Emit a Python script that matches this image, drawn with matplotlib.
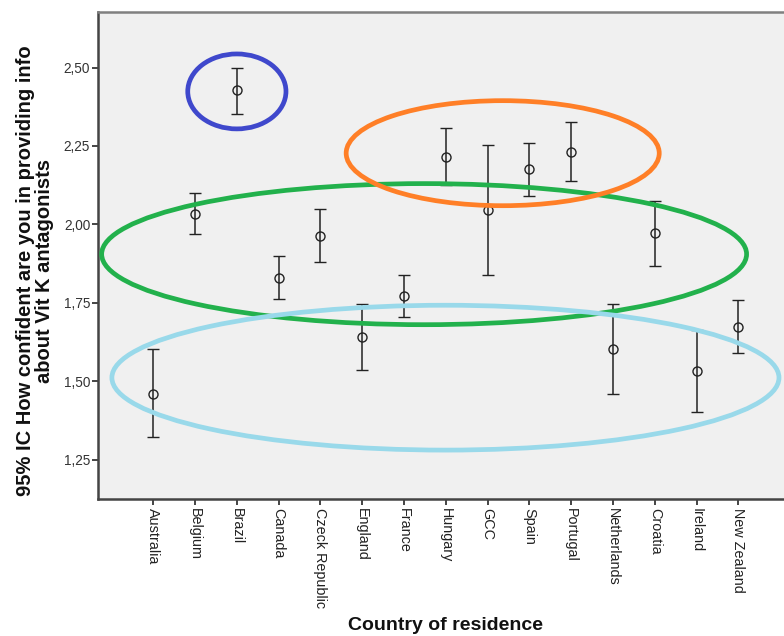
import numpy as np
import matplotlib
matplotlib.use("Agg")
import matplotlib.pyplot as plt
from matplotlib.patches import Ellipse
from matplotlib.ticker import FuncFormatter

plt.rcParams['font.family'] = ['Liberation Sans', 'DejaVu Sans']

# データ
countries = ["Australia", "Belgium", "Brazil", "Canada", "Czeck Republic",
             "England", "France", "Hungary", "GCC", "Spain", "Portugal",
             "Netherlands", "Croatia", "Ireland", "New Zealand"]
means = [1.460, 2.034, 2.427, 1.829, 1.964, 1.641, 1.771, 2.215, 2.045,
         2.176, 2.231, 1.604, 1.973, 1.532, 1.673]
ci_low = [1.322, 1.968, 2.353, 1.761, 1.879, 1.534, 1.703, 2.125, 1.838,
          2.091, 2.137, 1.460, 1.867, 1.401, 1.590]
ci_high = [1.601, 2.100, 2.500, 1.899, 2.048, 1.747, 1.838, 2.307, 2.252,
           2.261, 2.326, 1.747, 2.074, 1.664, 1.758]
y_ticks = [1.25, 1.50, 1.75, 2.00, 2.25, 2.50]

# 強調用の楕円 (中心x, 中心y, 幅, 高さ, 色)
ellipses = [
    (6.48, 1.905, 15.43, 0.450, '#22b14c'),
    (6.99, 1.511, 15.96, 0.462, '#99d9ea'),
    (8.36, 2.227, 7.49, 0.335, '#ff7f27'),
    (2.00, 2.424, 2.35, 0.239, '#3f48cc'),
]

fig = plt.figure(figsize=(7.84, 6.36), dpi=100)
ax = fig.add_axes([0.1256, 0.2149, 0.8744, 0.7656])
ax.set_facecolor('#f0f0f0')

x = np.arange(len(countries))
means = np.array(means)
yerr = np.vstack([means - np.array(ci_low), np.array(ci_high) - means])
ax.errorbar(x, means, yerr=yerr, fmt='o', mfc='none', mec='#222222',
            ms=6.5, mew=1.0, ecolor='#222222', elinewidth=1.1,
            capsize=4, capthick=1.1, zorder=2)

for cx, cy, w, h, c in ellipses:
    ax.add_patch(Ellipse((cx, cy), w, h, fill=False, edgecolor=c,
                         linewidth=3.4, zorder=3, clip_on=False))

ax.set_xlim(-1.311, 15.09)
ax.set_ylim(1.123, 2.676)
ax.set_xticks(x)
ax.set_xticklabels(countries, rotation=270, fontsize=10.4, color='#222222')
ax.set_yticks(y_ticks)
ax.yaxis.set_major_formatter(FuncFormatter(lambda v, p: f"{v:.2f}".replace('.', ',')))
ax.tick_params(axis='y', labelsize=9.8, labelcolor='#333333')
ax.tick_params(direction='out', length=4, width=1.4, color='#444444', pad=2)

for s in ['left', 'bottom']:
    ax.spines[s].set_color('#444444')
    ax.spines[s].set_linewidth(1.8)
ax.spines['top'].set_color('#808080')
ax.spines['top'].set_linewidth(1.8)
ax.spines['right'].set_visible(False)

fig.text(35 / 784, 1 - 271 / 636,
         "95% IC How confident are you in providing info\nabout Vit K antagonists",
         rotation=90, ha='center', va='center', multialignment='center',
         fontsize=14.5, fontweight='bold', color='#111111', linespacing=0.95)
fig.text(446 / 784, 1 - 626 / 636, "Country of residence",
         ha='center', va='center', fontsize=14, fontweight='bold',
         color='#111111')

fig.savefig('out.png', dpi=100)
